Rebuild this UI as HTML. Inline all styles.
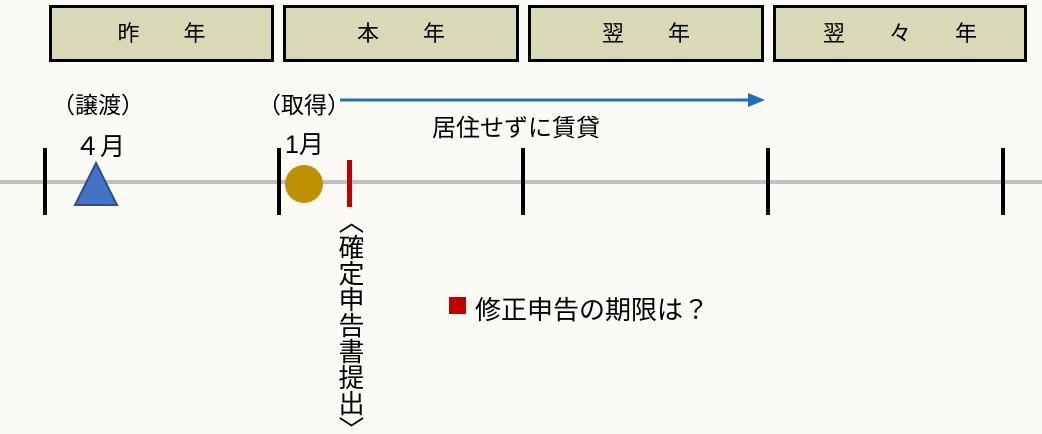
<!DOCTYPE html>
<html style="margin:0;width:1042px;height:434px;overflow:hidden"><head><meta charset="utf-8"><style>
body{margin:0;width:1042px;height:434px;background:#fbfaf5;position:relative;overflow:hidden;font-family:"Liberation Sans","Noto Sans CJK JP",sans-serif;color:#000}
.b{position:absolute;top:5px;height:51px;border:3px solid #000;background:#d9d9b8;font-size:22px;text-align:center;line-height:51px;white-space:pre}
.t{position:absolute;white-space:nowrap}
.k{position:absolute;top:148px;width:4px;height:67px;background:#000}
</style></head><body>
<div class="b" style="left:49px;width:219px">昨　　年</div>
<div class="b" style="left:283px;width:230px">本　　年</div>
<div class="b" style="left:528px;width:230px">翌　　年</div>
<div class="b" style="left:773px;width:248px">翌　　々　　年</div>
<div style="position:absolute;left:0;top:180px;width:1042px;height:4px;background:#c0c0c0"></div>
<div class="k" style="left:43px"></div><div class="k" style="left:277px"></div><div class="k" style="left:521px"></div><div class="k" style="left:766px"></div><div class="k" style="left:1001px"></div>
<svg style="position:absolute;left:0;top:0" width="1042" height="434">
<polygon points="96,163 117,205 75,205" fill="#4472c4" stroke="#2f528f" stroke-width="2"/>
<circle cx="304" cy="184" r="19" fill="#bf9000"/>
<rect x="347" y="160" width="5" height="47" fill="#c00000"/>
<line x1="340" y1="100" x2="752" y2="100" stroke="#1f6fbf" stroke-width="3"/>
<polygon points="765,100 748,93 748,107" fill="#1f6fbf"/>
<rect x="449" y="297" width="17" height="17" fill="#c00000"/>
</svg>
<div class="t" style="left:52px;top:86px;font-size:23px">（譲渡）</div>
<div class="t" style="left:75px;top:127px;font-size:25px">４月</div>
<div class="t" style="left:258px;top:86px;font-size:23px">（取得）</div>
<div class="t" style="left:285px;top:125px;font-size:25px">1月</div>
<div class="t" style="left:432px;top:108px;font-size:24px">居住せずに賃貸</div>
<div class="t" style="left:475px;top:290px;font-size:26px">修正申告の期限は？</div>
<div class="t" style="left:336px;top:208px;font-size:26px;line-height:27px;writing-mode:vertical-rl;height:226px;overflow:hidden">〈確定申告書提出〉</div>
</body></html>
